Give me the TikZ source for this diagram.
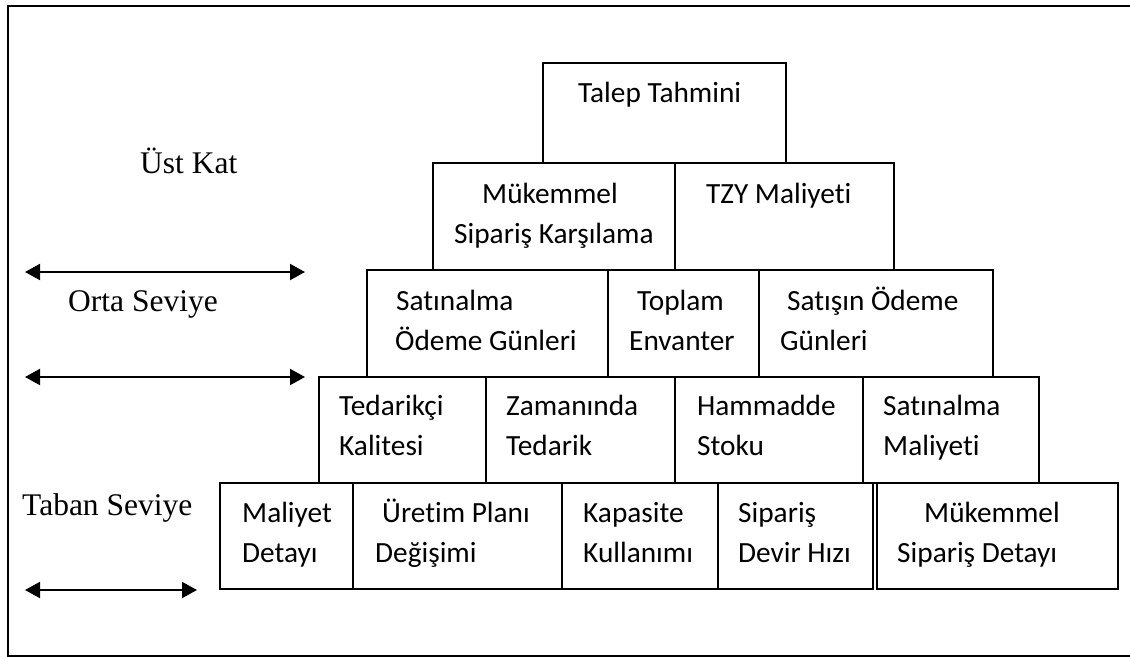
\documentclass[tikz,border=0pt]{standalone}
\usepackage{fontspec}
\setmainfont{Liberation Serif}
\newfontfamily\boxfont[Ligatures=NoCommon]{Carlito}
\usetikzlibrary{arrows.meta}
\begin{document}
\begin{tikzpicture}[x=1pt,y=-1pt,
  cell/.style={draw, line width=2pt, inner sep=0pt, outer sep=0pt, anchor=north west},
  celltext/.style={anchor=base west, inner sep=0pt, font=\boxfont\fontsize{29.3}{35}\selectfont},
  levellabel/.style={anchor=base west, inner sep=0pt, font=\fontsize{31.5}{38}\selectfont},
  spanarrow/.style={line width=2pt, {Triangle[length=15pt,width=16pt]}-{Triangle[length=15pt,width=16pt]}}]
\useasboundingbox (0,0) rectangle (1130,657);
% frame (runs past the right edge)
\draw[line width=2pt] (1140,6) -- (8,6) -- (8,656) -- (1140,656);
\clip (0,0) rectangle (1130,657);

% pyramid cells: \cellbox{name}{x1}{y1}{x2}{y2}
\newcommand\cellbox[5]{\node[cell, minimum width={#4-#2}, minimum height={#5-#3}] (#1) at (#2,#3) {};}
\cellbox{talep}{543}{63}{786}{163}
\cellbox{msk}{433}{163}{675}{270}
\cellbox{tzy}{675}{163}{894}{270}
\cellbox{sog}{367}{270}{608}{377}
\cellbox{env}{608}{270}{759}{377}
\cellbox{satis}{759}{270}{993}{377}
\cellbox{tedk}{319}{377}{486}{483}
\cellbox{zam}{486}{377}{675}{483}
\cellbox{ham}{675}{377}{863}{483}
\cellbox{sm}{863}{377}{1039}{483}
\cellbox{mdet}{220}{483}{353}{589}
\cellbox{upd}{353}{483}{562}{589}
\cellbox{kap}{562}{483}{718}{589}
\cellbox{sdh}{718}{483}{873}{589}
\cellbox{msd}{877}{483}{1118}{589}

% cell texts
\node[celltext] (t1) at (578,102) {Talep Tahmini};
\node[celltext] (t2a) at (482,203) {Mükemmel};
\node[celltext] (t2b) at (454,243) {Sipariş Karşılama};
\node[celltext] (t3) at (706,203) {TZY Maliyeti};
\node[celltext] (t4a) at (396,310) {Satınalma};
\node[celltext] (t4b) at (395,350) {Ödeme Günleri};
\node[celltext] (t5a) at (637,310) {Toplam};
\node[celltext] (t5b) at (629,350) {Envanter};
\node[celltext] (t6a) at (787,310) {Satışın Ödeme};
\node[celltext] (t6b) at (780,350) {Günleri};
\node[celltext] (t7a) at (339,415) {Tedarikçi};
\node[celltext] (t7b) at (339,455) {Kalitesi};
\node[celltext] (t8a) at (506,415) {Zamanında};
\node[celltext] (t8b) at (506,455) {Tedarik};
\node[celltext] (t9a) at (697,415) {Hammadde};
\node[celltext] (t9b) at (697,455) {Stoku};
\node[celltext] (t10a) at (883,415) {Satınalma};
\node[celltext] (t10b) at (883,455) {Maliyeti};
\node[celltext] (t11a) at (242,522) {Maliyet};
\node[celltext] (t11b) at (242,562) {Detayı};
\node[celltext] (t12a) at (382,522) {Üretim Planı};
\node[celltext] (t12b) at (375,562) {Değişimi};
\node[celltext] (t13a) at (583,522) {Kapasite};
\node[celltext] (t13b) at (583,562) {Kullanımı};
\node[celltext] (t14a) at (738,522) {Sipariş};
\node[celltext] (t14b) at (738,562) {Devir Hızı};
\node[celltext] (t15a) at (924,522) {Mükemmel};
\node[celltext] (t15b) at (897,562) {Sipariş Detayı};

% level labels
\node[levellabel] (ust) at (140,173) {Üst Kat};
\node[levellabel] (orta) at (68,311) {Orta Seviye};
\node[levellabel] (taban) at (22,515) {Taban Seviye};

% level boundary arrows
\coordinate (a1l) at (25,272);  \coordinate (a1r) at (305,272);
\coordinate (a2l) at (25,377);  \coordinate (a2r) at (305,377);
\coordinate (a3l) at (25,590);  \coordinate (a3r) at (197,590);
\draw[spanarrow] (a1l) -- (a1r);
\draw[spanarrow] (a2l) -- (a2r);
\draw[spanarrow] (a3l) -- (a3r);
\end{tikzpicture}
\end{document}
